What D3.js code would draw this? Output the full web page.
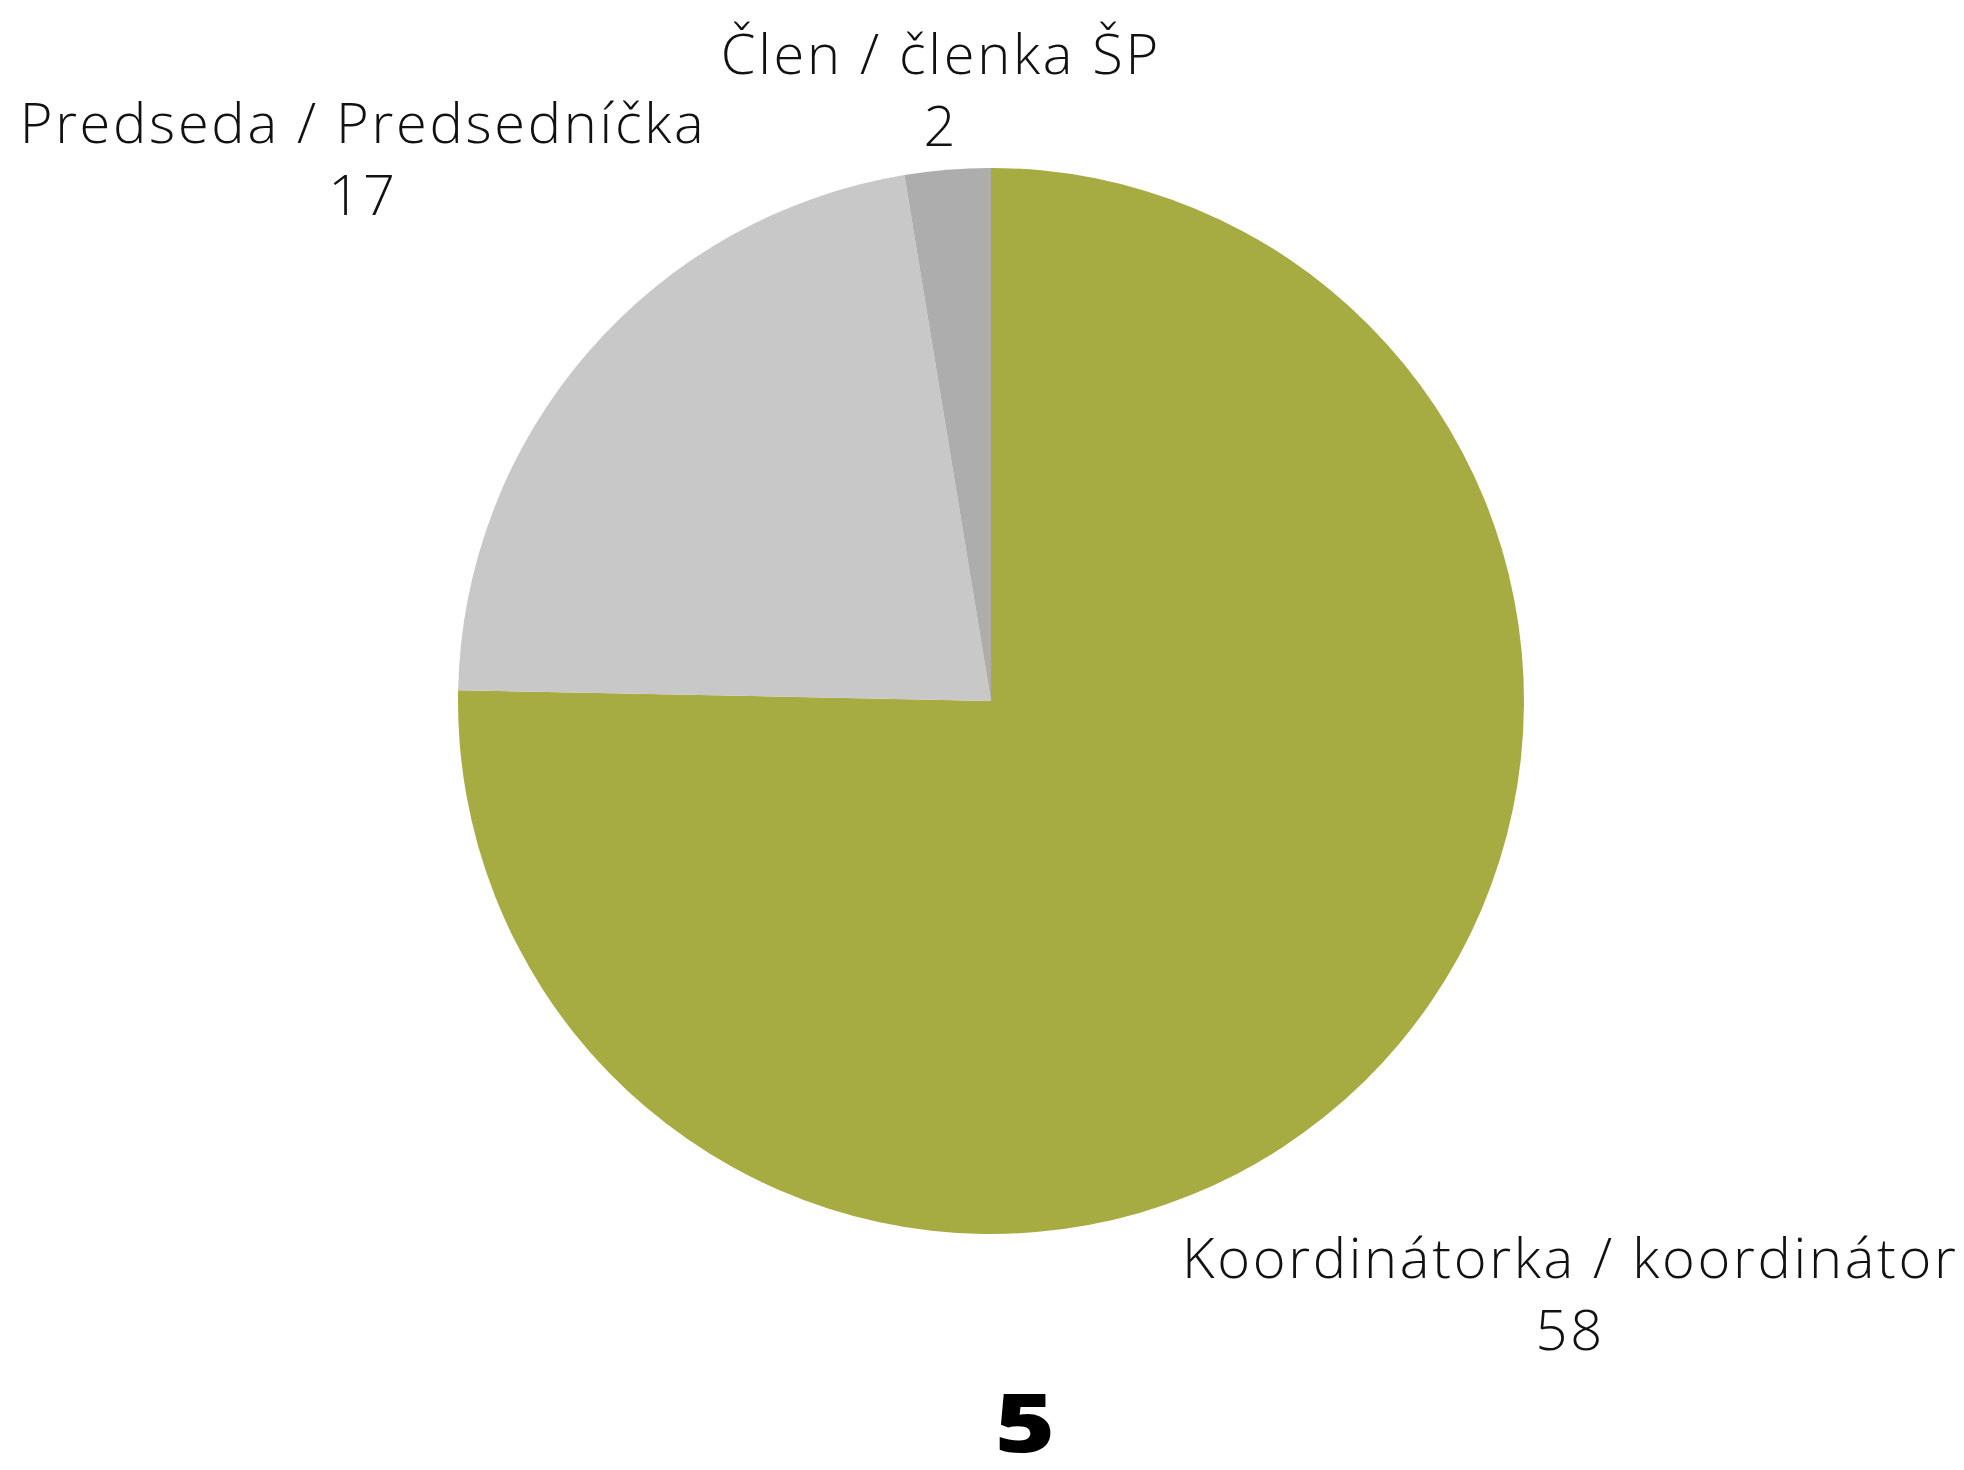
<!DOCTYPE html>
<html>
<head>
<meta charset="utf-8">
<script src="https://cdn.jsdelivr.net/npm/d3@7"></script>
<style>
  body { margin: 0; background: #fff; }
  text { font-family: "Open Sans", "Noto Sans", sans-serif; }
</style>
</head>
<body>
<div class="container"></div>
<script>
// data
const categories = ["Koordinátorka / koordinátor", "Predseda / Predsedníčka", "Člen / členka ŠP"]
const values = [58, 17, 2]
const colors = ["#a6ab42", "#c8c8c8", "#adadad"]
const title = "5"

const width = 1964
const height = 1470
const cx = 991
const cy = 701
const radius = 533

const svg = d3.select(".container")
    .append("svg")
    .attr("width", width)
    .attr("height", height)

const data = categories.map((c, i) => ({name: c, value: values[i], color: colors[i]}))

const pie = d3.pie()
    .sort(null)
    .value(d => d.value)

const arc = d3.arc()
    .innerRadius(0)
    .outerRadius(radius)

const arcs = pie(data)

const g = svg.append("g")
    .attr("transform", `translate(${cx}, ${cy})`)

// slices
g.selectAll("path")
    .data(arcs)
    .join("path")
    .attr("d", arc)
    .attr("fill", d => d.data.color)

// labels placed outside the pie along each slice's middle angle
const gap = -30
const labels = g.selectAll("g.label")
    .data(arcs)
    .join("g")
    .attr("class", "label")

const text = labels.append("text")
    .attr("text-anchor", "middle")
    .attr("font-size", 56)
    .attr("font-weight", 300)
    .attr("letter-spacing", 2.7)
    .attr("fill", "#111")

text.append("tspan")
    .attr("x", 0)
    .attr("dy", 0)
    .text(d => d.data.name)

text.append("tspan")
    .attr("x", 0)
    .attr("dy", 72)
    .text(d => d.data.value)

labels.attr("transform", function(d) {
    const box = this.getBBox()
    const a = (d.startAngle + d.endAngle) / 2
    const ux = Math.sin(a)
    const uy = -Math.cos(a)
    // top labels sit a little further out than the bottom one
    const dist = radius + gap + Math.abs(ux) * box.width / 2 + Math.abs(uy) * box.height / 2 + (uy < 0 ? 20 : 0)
    const tx = ux * dist - (box.x + box.width / 2)
    const ty = uy * dist - (box.y + box.height / 2)
    return `translate(${tx}, ${ty})`
})

// title number under the pie
svg.append("text")
    .attr("transform", "translate(1025, 1452) scale(1.25, 1)")
    .attr("text-anchor", "middle")
    .attr("font-size", 82)
    .attr("font-weight", 800)
    .attr("fill", "#000")
    .text(title)
</script>
</body>
</html>
